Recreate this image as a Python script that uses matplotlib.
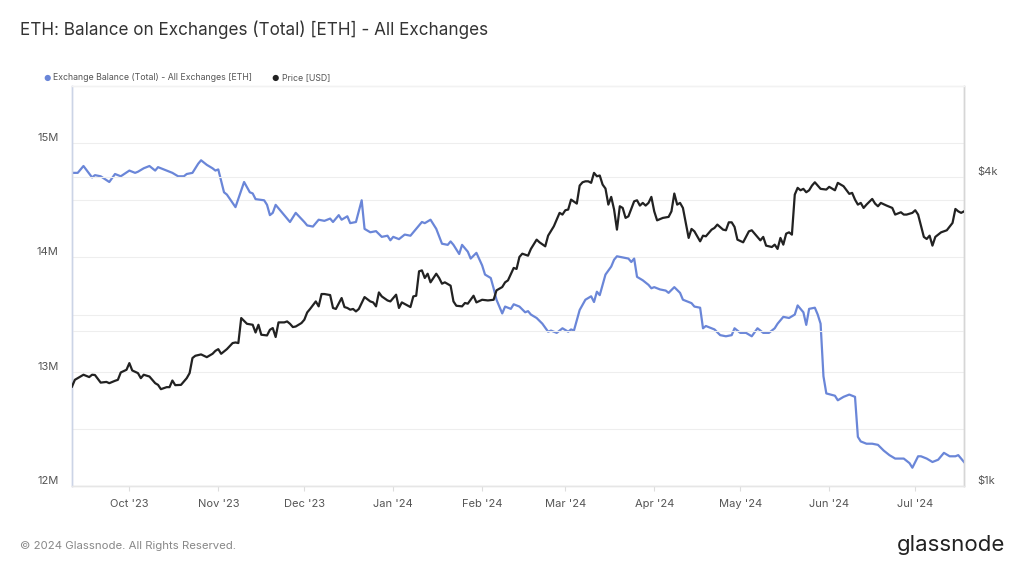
import pandas as pd
import matplotlib.pyplot as plt
from matplotlib.ticker import NullLocator

plt.rcParams["font.family"] = ["Inter", "DejaVu Sans"]

# days counted from 2023-09-11
start = pd.Timestamp("2023-09-11")

bal_days = [0, 2, 4, 7, 8, 10, 13, 15, 17, 20, 22, 23, 25, 27, 29, 30, 33, 35, 37, 39,
            40, 42, 44, 45, 47, 49, 50, 51, 53, 54, 57, 60, 62, 63, 64, 67, 68, 69, 70, 71,
            73, 75, 76, 78, 81, 82, 84, 86, 88, 90, 91, 93, 94, 96, 97, 99, 101, 102, 104, 106,
            108, 110, 111, 112, 114, 116, 118, 120, 122, 123, 125, 127, 129, 131, 132, 133, 135, 136, 138, 139,
            141, 143, 144, 146, 147, 148, 150, 151, 153, 154, 156, 158, 159, 160, 162, 164, 166, 167, 169, 171,
            173, 174, 175, 177, 179, 181, 182, 183, 184, 186, 188, 189, 190, 192, 194, 195, 196, 197, 199, 201,
            202, 203, 205, 207, 208, 210, 212, 213, 216, 217, 219, 220, 221, 224, 226, 228, 230, 231, 233, 235,
            237, 239, 241, 243, 245, 246, 248, 250, 252, 253, 255, 256, 257, 259, 260, 261, 262, 263, 266, 267,
            269, 271, 273, 274, 275, 277, 279, 281, 283, 285, 287, 290, 292, 293, 295, 296, 298, 300, 302, 304,
            306, 308, 309, 311]
bal_m = [14.74, 14.74, 14.80, 14.70, 14.72, 14.71, 14.66, 14.73, 14.71, 14.76, 14.74, 14.75, 14.78, 14.80, 14.76, 14.79, 14.76, 14.74, 14.71, 14.71,
         14.73, 14.74, 14.82, 14.85, 14.81, 14.78, 14.76, 14.77, 14.57, 14.55, 14.44, 14.66, 14.57, 14.56, 14.51, 14.50, 14.46, 14.37, 14.39, 14.46,
         14.40, 14.34, 14.31, 14.39, 14.31, 14.28, 14.27, 14.33, 14.32, 14.34, 14.31, 14.37, 14.33, 14.36, 14.30, 14.31, 14.50, 14.25, 14.22, 14.23,
         14.18, 14.19, 14.15, 14.18, 14.16, 14.20, 14.19, 14.25, 14.31, 14.30, 14.33, 14.25, 14.12, 14.11, 14.14, 14.11, 14.03, 14.11, 14.05, 13.99,
         14.04, 13.93, 13.85, 13.82, 13.73, 13.63, 13.51, 13.57, 13.55, 13.59, 13.57, 13.52, 13.53, 13.50, 13.47, 13.42, 13.35, 13.36, 13.34, 13.38,
         13.35, 13.37, 13.36, 13.54, 13.63, 13.66, 13.61, 13.70, 13.67, 13.85, 13.92, 13.98, 14.01, 14.00, 13.99, 13.96, 13.99, 13.83, 13.80, 13.76,
         13.73, 13.74, 13.72, 13.71, 13.69, 13.74, 13.69, 13.63, 13.60, 13.57, 13.56, 13.38, 13.40, 13.37, 13.32, 13.31, 13.32, 13.38, 13.34, 13.34,
         13.31, 13.38, 13.34, 13.34, 13.38, 13.42, 13.48, 13.47, 13.50, 13.58, 13.52, 13.41, 13.55, 13.56, 13.50, 13.42, 12.96, 12.81, 12.79, 12.75,
         12.78, 12.80, 12.78, 12.43, 12.39, 12.37, 12.37, 12.36, 12.31, 12.27, 12.24, 12.24, 12.20, 12.16, 12.26, 12.26, 12.24, 12.21, 12.23, 12.29,
         12.26, 12.26, 12.27, 12.21]

price_days = [0, 1, 3, 4, 6, 7, 8, 10, 12, 13, 15, 16, 17, 19, 20, 21, 23, 24, 25, 27,
              29, 30, 31, 33, 34, 35, 36, 38, 40, 41, 42, 43, 45, 46, 47, 49, 50, 51, 52, 54,
              56, 57, 58, 59, 61, 63, 64, 65, 66, 68, 69, 70, 71, 72, 74, 75, 76, 77, 78, 80,
              81, 82, 83, 85, 86, 87, 88, 90, 91, 92, 94, 95, 96, 97, 98, 99, 100, 102, 104, 105,
              106, 107, 108, 110, 111, 113, 114, 115, 118, 119, 120, 121, 122, 123, 124, 125, 127, 128, 129, 130,
              132, 133, 134, 136, 137, 138, 140, 141, 143, 145, 147, 148, 150, 151, 152, 154, 155, 156, 157, 159,
              160, 162, 163, 165, 166, 168, 170, 171, 172, 173, 174, 176, 177, 178, 179, 180, 181, 182, 183, 184,
              185, 186, 187, 188, 189, 190, 191, 192, 193, 194, 196, 197, 198, 199, 200, 201, 202, 203, 204, 206,
              208, 209, 210, 211, 212, 213, 215, 216, 217, 219, 220, 221, 223, 224, 225, 227, 228, 229, 230, 231,
              232, 234, 235, 236, 237, 239, 240, 241, 242, 244, 245, 246, 247, 248, 249, 250, 251, 252, 253, 254,
              255, 256, 257, 258, 259, 260, 261, 263, 264, 266, 267, 269, 271, 272, 273, 274, 275, 276, 277, 279,
              280, 281, 282, 284, 286, 287, 289, 290, 291, 293, 294, 295, 297, 298, 299, 300, 301, 303, 305, 307,
              308, 309, 310, 311]
price_usd = [1561, 1609, 1633, 1646, 1629, 1646, 1644, 1589, 1594, 1585, 1602, 1609, 1663, 1683, 1734, 1678, 1658, 1621, 1646, 1633,
             1585, 1573, 1543, 1557, 1557, 1604, 1571, 1573, 1621, 1658, 1774, 1792, 1803, 1792, 1781, 1808, 1832, 1846, 1808, 1846,
             1897, 1902, 1897, 2122, 2068, 2059, 1989, 2059, 1969, 1963, 2013, 2029, 1949, 2081, 2081, 2090, 2068, 2038, 2043, 2075,
             2106, 2176, 2210, 2286, 2236, 2363, 2363, 2352, 2220, 2210, 2321, 2229, 2220, 2203, 2210, 2186, 2210, 2331, 2286, 2276,
             2236, 2380, 2338, 2296, 2286, 2356, 2220, 2276, 2229, 2338, 2345, 2616, 2627, 2539, 2588, 2490, 2588, 2539, 2475, 2490,
             2453, 2286, 2242, 2236, 2270, 2263, 2345, 2276, 2303, 2296, 2303, 2402, 2438, 2490, 2512, 2656, 2644, 2790, 2831, 2806,
             2892, 3015, 2979, 2926, 3069, 3201, 3399, 3373, 3439, 3450, 3607, 3543, 3841, 3898, 3915, 3915, 3888, 4066, 4005, 4018,
             3858, 3790, 3527, 3651, 3450, 3153, 3501, 3475, 3323, 3347, 3580, 3596, 3512, 3554, 3512, 3554, 3651, 3422, 3287, 3323,
             3338, 3422, 3706, 3527, 3554, 3475, 3038, 3163, 3129, 2992, 3069, 3060, 3153, 3177, 3225, 3153, 3144, 3258, 3258, 3191,
             3015, 2979, 3052, 3129, 3144, 3052, 3005, 3052, 2935, 2917, 2948, 2892, 3038, 2948, 3097, 3115, 3083, 3689, 3802, 3761,
             3785, 3728, 3761, 3841, 3898, 3841, 3785, 3773, 3819, 3761, 3888, 3830, 3701, 3717, 3607, 3527, 3554, 3475, 3527, 3618,
             3543, 3501, 3554, 3512, 3475, 3373, 3408, 3373, 3373, 3399, 3439, 3373, 3052, 3024, 3069, 2935, 3052, 3115, 3144, 3249,
             3459, 3422, 3399, 3422]

month_ticks = pd.date_range("2023-10-01", "2024-07-01", freq="MS")
month_labels = [d.strftime("%b '%y") for d in month_ticks]

left_ticks = [12, 13, 14, 15]
left_minor = [12.5, 13.5, 14.5]
right_ticks = [1000, 2000, 4000]
right_labels = ["$1k", "", "$4k"]

bal_dates = start + pd.to_timedelta(bal_days, unit="D")
price_dates = start + pd.to_timedelta(price_days, unit="D")

fig = plt.figure(figsize=(10.24, 5.68), dpi=100)
ax = fig.add_axes([72 / 1024, 82 / 568, 892 / 1024, 400 / 568])
ax2 = ax.twinx()

grid_c = "#eeeeee"
tick_c = "#555555"

# balance (left axis)
ax.plot(bal_dates, bal_m, color="#6a86d8", lw=1.6, zorder=3)
ax.set_ylim(12, 15.5)
ax.set_yticks(left_ticks)
ax.set_yticklabels([f"{v}M" for v in left_ticks])
ax.set_yticks(left_minor, minor=True)
ax.grid(axis="y", which="both", color=grid_c, lw=0.8)
ax.tick_params(axis="y", which="both", length=0, pad=9.5, labelsize=8, labelcolor=tick_c)
plt.setp(ax.get_yticklabels(), va="bottom")

ax.set_xlim(start, start + pd.Timedelta(days=311))
ax.set_xticks(month_ticks)
ax.set_xticklabels(month_labels)
ax.tick_params(axis="x", length=3.5, color="#dddddd", pad=6, labelsize=8, labelcolor=tick_c)

# price (right axis, log)
ax2.plot(price_dates, price_usd, color="#222222", lw=1.6, zorder=4)
ax2.set_yscale("log")
ax2.set_ylim(1000, 6000)
ax2.set_yticks(right_ticks)
ax2.set_yticklabels(right_labels)
ax2.yaxis.set_minor_locator(NullLocator())
ax2.grid(axis="y", which="major", color=grid_c, lw=0.8)
ax2.tick_params(axis="y", length=0, pad=9.5, labelsize=8, labelcolor=tick_c)
plt.setp(ax2.get_yticklabels(), va="bottom")

for a in (ax, ax2):
    a.set_facecolor("none")
    a.spines["top"].set_color("#f2f2f2")
    a.spines["bottom"].set_color("#e6e6e6")
    a.spines["left"].set_color("#ccd4e6")
    a.spines["right"].set_color("#d6d6d6")
    for s in a.spines.values():
        s.set_linewidth(1.0)
ax.set_zorder(ax2.get_zorder() - 1)
ax2.patch.set_visible(False)

fig.text(20 / 1024, 1 - 30 / 568, "ETH: Balance on Exchanges (Total) [ETH] - All Exchanges",
         fontsize=12.3, color="#333333", va="center", ha="left")

# legend
fig.text(47 / 1024, 1 - 78 / 568, "\u25CF", fontsize=6, color="#6a86d8", va="center", ha="center")
fig.text(53 / 1024, 1 - 78 / 568, "Exchange Balance (Total) - All Exchanges [ETH]",
         fontsize=6.3, color="#555555", va="center", ha="left")
fig.text(275 / 1024, 1 - 78 / 568, "\u25CF", fontsize=6, color="#222222", va="center", ha="center")
fig.text(282 / 1024, 1 - 78 / 568, "Price [USD]", fontsize=6.3, color="#555555", va="center", ha="left")

fig.text(20 / 1024, 1 - 546 / 568, "\u00A9 2024 Glassnode. All Rights Reserved.",
         fontsize=8.2, color="#888888", va="center", ha="left")
fig.text(1005 / 1024, 1 - 545 / 568, "glassnode", fontsize=16, color="#222222",
         va="center", ha="right")

fig.savefig("out.png", dpi=100, facecolor="white")
